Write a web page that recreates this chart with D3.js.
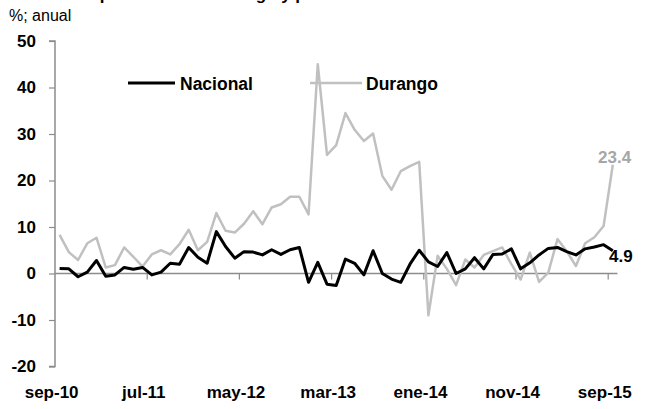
<!DOCTYPE html>
<html>
<head>
<meta charset="utf-8">
<script src="https://cdn.jsdelivr.net/npm/d3@7"></script>
<style>
  html, body { margin: 0; padding: 0; background: #fff; }
  svg { display: block; font-family: "Liberation Sans", Arial, sans-serif; }
</style>
</head>
<body>
<svg id="chart" width="645" height="409"></svg>
<script>
const categories = [
  "sep-10","oct-10","nov-10","dic-10","ene-11","feb-11","mar-11","abr-11","may-11","jun-11",
  "jul-11","ago-11","sep-11","oct-11","nov-11","dic-11","ene-12","feb-12","mar-12","abr-12",
  "may-12","jun-12","jul-12","ago-12","sep-12","oct-12","nov-12","dic-12","ene-13","feb-13",
  "mar-13","abr-13","may-13","jun-13","jul-13","ago-13","sep-13","oct-13","nov-13","dic-13",
  "ene-14","feb-14","mar-14","abr-14","may-14","jun-14","jul-14","ago-14","sep-14","oct-14",
  "nov-14","dic-14","ene-15","feb-15","mar-15","abr-15","may-15","jun-15","jul-15","ago-15",
  "sep-15"
];
const nacional = [
  1.1, 1.0, -0.7, 0.3, 2.8, -0.6, -0.3, 1.3, 0.9, 1.3,
  -0.3, 0.3, 2.2, 2.0, 5.6, 3.5, 2.2, 9.0, 5.8, 3.3,
  4.7, 4.6, 4.0, 5.1, 4.1, 5.1, 5.6, -1.9, 2.4, -2.3,
  -2.6, 3.1, 2.2, -0.3, 4.9, 0.0, -1.2, -1.9, 2.0, 5.0,
  2.5, 1.5, 4.5, 0.0, 1.0, 3.4, 1.0, 4.1, 4.2, 5.3,
  1.0, 2.3, 4.0, 5.4, 5.6, 4.7, 4.0, 5.3, 5.7, 6.2,
  4.9
];
const durango = [
  8.3, 4.6, 2.9, 6.5, 7.7, 1.3, 1.8, 5.6, 3.6, 1.5,
  4.1, 5.0, 4.1, 6.3, 9.4, 5.0, 6.8, 13.0, 9.2, 8.8,
  10.7, 13.4, 10.6, 14.2, 14.9, 16.5, 16.5, 12.7, 45.0, 25.5,
  27.6, 34.5, 30.9, 28.5, 30.1, 21.0, 18.0, 22.0, 23.1, 24.0,
  -9.0, 3.8, 1.0, -2.5, 3.0, 1.3, 4.0, 4.8, 5.6, 2.0,
  -1.3, 4.5, -1.8, 0.2, 7.4, 4.8, 1.6, 6.5, 7.8, 10.2,
  23.4
];
const tickLabels = ["sep-10","jul-11","may-12","mar-13","ene-14","nov-14","sep-15"];
const yTicks = [-20, -10, 0, 10, 20, 30, 40, 50];
const seriesNames = ["Nacional", "Durango"];

const svg = d3.select("#chart");
const left = 55, bandW = 9.22;
const x = d3.scaleBand().domain(categories).range([left, left + categories.length * bandW]).paddingInner(0).paddingOuter(0);
const y = d3.scaleLinear().domain([-20, 50]).range([366.5, 41]);
const cx = c => x(c) + x.bandwidth() / 2;
const axisColor = "#8c8c8c";

// title (cut off at the top edge, as in the reference)
svg.append("text").attr("x", 79).attr("y", 0).attr("font-weight", "bold").attr("font-size", 17)
  .attr("fill", "#000").text("Exportaciones: Durango y promedio nacional");

svg.append("text").attr("x", 9).attr("y", 21).attr("font-size", 16).attr("fill", "#000")
  .attr("font-family", "'Liberation Sans Narrow', 'Liberation Sans', Arial, sans-serif")
  .text("%; anual");

// Y axis
const yAxis = d3.axisLeft(y).tickValues(yTicks).tickSize(6).tickFormat(d => String(d));
const gy = svg.append("g").attr("transform", `translate(${left},0)`).call(yAxis);
gy.select(".domain").attr("stroke", axisColor).attr("stroke-width", 1.5).attr("d", `M-6,${y(50)}H0V${y(-20)}H-6`);
gy.selectAll(".tick line").attr("stroke", axisColor).attr("stroke-width", 1.2);
gy.selectAll(".tick text").attr("x", -19).attr("font-size", 17).attr("font-weight", "bold")
  .attr("fill", "#000").attr("font-family", "'Liberation Sans', Arial, sans-serif");

// X axis at zero
const xEnd = left + categories.length * bandW;
const gx = svg.append("g");
gx.append("line").attr("x1", left).attr("x2", xEnd).attr("y1", y(0)).attr("y2", y(0))
  .attr("stroke", axisColor).attr("stroke-width", 1.5);
const boundaryIdx = d3.range(10, categories.length + 1, 10);
gx.selectAll("line.tk").data(boundaryIdx).join("line").attr("class", "tk")
  .attr("x1", i => left + i * bandW).attr("x2", i => left + i * bandW)
  .attr("y1", y(0)).attr("y2", y(0) + 6).attr("stroke", axisColor).attr("stroke-width", 1.2);

svg.selectAll("text.xl").data(tickLabels).join("text").attr("class", "xl")
  .attr("x", d => cx(d) - 8).attr("y", 398).attr("text-anchor", "middle")
  .attr("font-size", 17).attr("font-weight", "bold").attr("fill", "#000").text(d => d);

// lines
const line = d3.line().x((d, i) => cx(categories[i])).y(d => y(d));
svg.append("path").datum(durango).attr("d", line).attr("fill", "none")
  .attr("stroke", "#c0c0c0").attr("stroke-width", 2.5).attr("stroke-linejoin", "round");
svg.append("path").datum(nacional).attr("d", line).attr("fill", "none")
  .attr("stroke", "#000").attr("stroke-width", 3).attr("stroke-linejoin", "round");

// end labels
const last = categories.length - 1;
svg.append("text").attr("x", 598).attr("y", 163).attr("font-size", 17).attr("font-weight", "bold")
  .attr("fill", "#a6a6a6").text(d3.format(".1f")(durango[last]));
svg.append("text").attr("x", 609).attr("y", 262).attr("font-size", 17).attr("font-weight", "bold")
  .attr("fill", "#000").text(d3.format(".1f")(nacional[last]));

// legend
const legend = [
  {name: seriesNames[0], color: "#000", w: 3, x1: 128, x2: 175, tx: 180},
  {name: seriesNames[1], color: "#c0c0c0", w: 2.5, x1: 310, x2: 362, tx: 366}
];
legend.forEach(l => {
  svg.append("line").attr("x1", l.x1).attr("x2", l.x2).attr("y1", 83).attr("y2", 83)
    .attr("stroke", l.color).attr("stroke-width", l.w);
  svg.append("text").attr("x", l.tx).attr("y", 90).attr("font-size", 17.5).attr("font-weight", "bold")
    .attr("fill", "#000").text(l.name);
});
</script>
</body>
</html>
